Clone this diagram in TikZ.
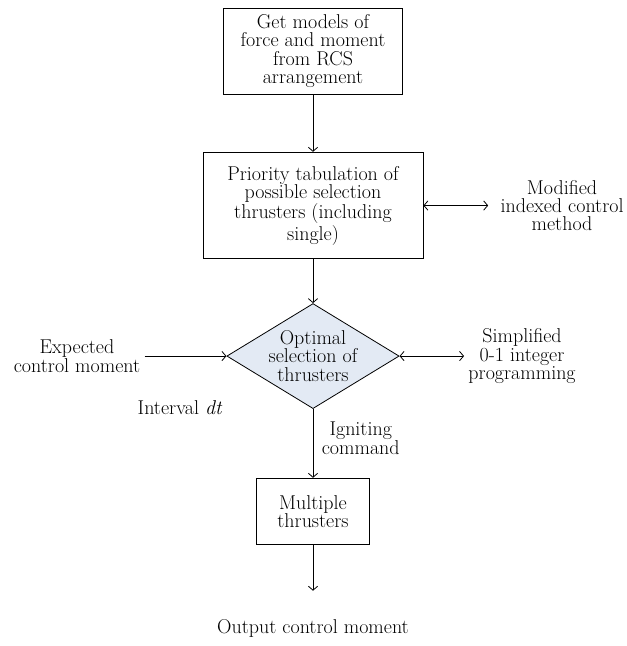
\documentclass[tikz,border=0pt]{standalone}
\usepackage{xcolor}
\usepackage{tikz}
\usetikzlibrary{shapes.geometric,positioning,arrows.meta}
\definecolor{decisionfill}{RGB}{227,234,244}

\begin{document}
\begin{tikzpicture}[x=0.75pt,y=-0.75pt,on grid,font=\fontsize{15}{13.8}\selectfont,line width=0.6pt,>={Straight Barb[length=3pt,width=7pt]},block/.style={draw,rectangle,align=center,inner sep=2pt},decision/.style={draw,diamond,fill=decisionfill,align=center,inner sep=0pt,aspect=1.64,minimum width=128pt,minimum height=78pt},note/.style={align=center,inner sep=3pt}]
	\useasboundingbox (0,0) rectangle (626,646);
	\node[block,minimum width=134pt,minimum height=64.5pt] (models) at (313,51) {Get models of\\force and moment\\from RCS\\arrangement};
	\node[block,minimum width=165pt,minimum height=80pt] (tab) [below=115.9pt of models] {Priority tabulation of\\possible selection\\thrusters (including\\single)};
	\node[decision] (select) [below=112.9pt of tab] {Optimal\\selection of\\thrusters};
	\node[block,minimum width=85pt,minimum height=50pt] (multi) [below=116.6pt of select] {Multiple\\thrusters};
	\node[note] (output) [below=87.4pt of multi] {Output control moment};
	\node[note] (modified) [right=186.8pt of tab] {Modified\\indexed control\\method};
	\node[note] (simplified) [right=156.8pt of select] {Simplified\\0-1 integer\\programming};
	\node[note] (expected) [left=177pt of select] {Expected\\control moment};
	\node[note] (interval) [below right=39pt and 77.3pt of expected] {Interval \textit{dt}};
	\path[->]
	(models) edge (tab)
	(tab) edge (select)
	(select) edge node[right,align=center,xshift=3pt,yshift=4pt] {Igniting\\command} (multi)
	(multi) edge [shorten >=18pt] (output)
	(expected) edge (select);
	\path[<->]
	(tab) edge [shorten >=6pt] (modified)
	(select) edge (simplified);
\end{tikzpicture}
\end{document}
